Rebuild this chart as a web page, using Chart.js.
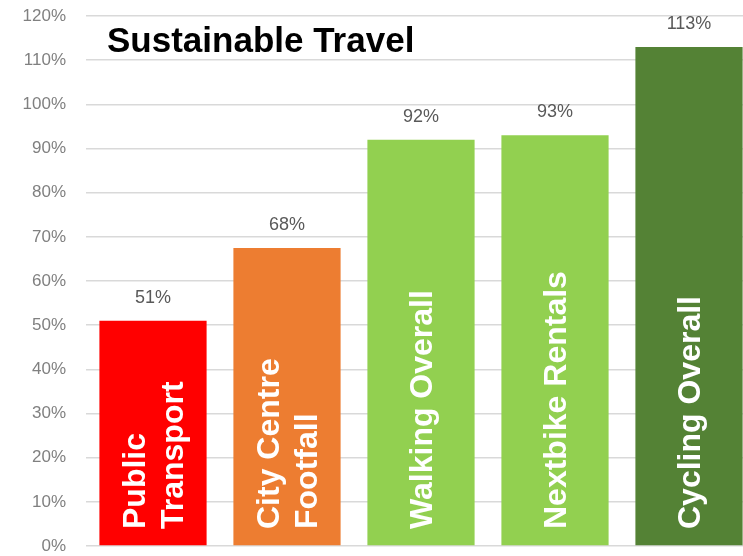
<!DOCTYPE html>
<html>
<head>
<meta charset="utf-8">
<script src="https://cdn.jsdelivr.net/npm/chart.js@4/dist/chart.umd.min.js"></script>
<style>
	html, body { margin: 0; padding: 0; background: #fff; overflow: hidden; }
	#wrap { width: 760px; height: 556px; }
</style>
</head>
<body>
<div id="wrap"><canvas id="myChart"></canvas></div>
<script>
const categories = [
	["Public", "Transport"],
	["City Centre", "Footfall"],
	["Walking Overall"],
	["Nextbike Rentals"],
	["Cycling Overall"],
];
const values = [51, 67.5, 92, 93, 113];
const barColors = ["#ff0000", "#ed7d31", "#92d050", "#92d050", "#548235"];
const chartTitle = "Sustainable Travel";

const labelPlugin = {
	id: "labels",
	afterDatasetsDraw(chart) {
		const ctx = chart.ctx;
		const meta = chart.getDatasetMeta(0);
		const bottom = chart.scales.y.getPixelForValue(0);
		ctx.save();
		meta.data.forEach((bar, i) => {
			// value above bar
			ctx.fillStyle = "#595959";
			ctx.font = "18px 'Liberation Sans', Arial, sans-serif";
			ctx.textAlign = "center";
			ctx.textBaseline = "middle";
			ctx.fillText(Math.round(values[i]) + "%", bar.x, bar.y - 23);

			// category name inside bar, rotated
			const lines = categories[i];
			ctx.save();
			ctx.translate(bar.x, bottom - 17);
			ctx.rotate(-Math.PI / 2);
			ctx.fillStyle = "#ffffff";
			ctx.font = "bold 32px 'Liberation Sans', Arial, sans-serif";
			ctx.textAlign = "left";
			ctx.textBaseline = "middle";
			lines.forEach((line, j) => {
				ctx.fillText(line, 0, (j - (lines.length - 1) / 2) * 38 + 2);
			});
			ctx.restore();
		});

		ctx.fillStyle = "#000000";
		ctx.font = "bold 35px 'Liberation Sans', Arial, sans-serif";
		ctx.textAlign = "left";
		ctx.textBaseline = "alphabetic";
		ctx.fillText(chartTitle, 107, 52);
		ctx.restore();
	},
};

new Chart(document.getElementById("myChart"), {
	type: "bar",
	data: {
		labels: categories,
		datasets: [{
			data: values,
			backgroundColor: barColors,
			categoryPercentage: 1,
			barPercentage: 0.8,
		}],
	},
	options: {
		responsive: true,
		maintainAspectRatio: false,
		animation: false,
		layout: { padding: { top: 16, bottom: 10, right: 4, left: 0 } },
		plugins: {
			legend: { display: false },
			tooltip: { enabled: false },
		},
		scales: {
			x: { display: false },
			y: {
				min: 0,
				max: 120,
				border: { display: false },
				afterFit: (scale) => {
					scale.width = 86;
					scale.paddingTop = 0;
					scale.paddingBottom = 0;
				},
				grid: { color: "#d9d9d9", lineWidth: 1.5, drawTicks: false },
				ticks: {
					stepSize: 10,
					padding: 20,
					color: "#808080",
					font: { size: 17, family: "'Liberation Sans', Arial, sans-serif" },
					callback: (v) => v + "%",
				},
			},
		},
	},
	plugins: [labelPlugin],
});
</script>
</body>
</html>
